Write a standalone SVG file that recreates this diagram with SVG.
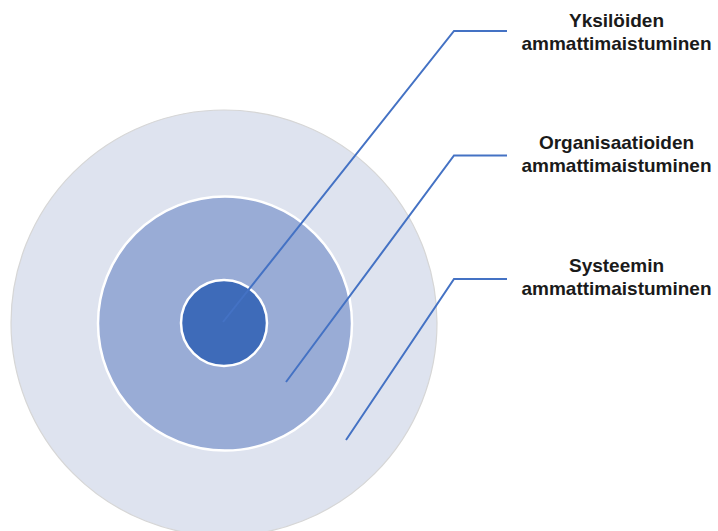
<svg xmlns="http://www.w3.org/2000/svg" width="718" height="531" viewBox="0 0 718 531">
<style>
.ring{stroke:#ffffff;stroke-width:2.5}
.lbl{font-family:"Liberation Sans",Arial,sans-serif;font-weight:bold;font-size:19px;fill:#1a1a1a;text-anchor:middle}
.conn{fill:none;stroke:#4472C4;stroke-width:2;stroke-linejoin:miter}
</style>
<rect width="718" height="531" fill="#ffffff"/>
<g id="systeemi">
<circle cx="224" cy="323" r="213" fill="#DEE3EF" stroke="#d6d6d6" stroke-width="1.2"/>
</g>
<g id="organisaatiot">
<circle class="ring" cx="225" cy="323.5" r="127" fill="#99ACD6"/>
</g>
<g id="yksilot">
<circle class="ring" cx="224" cy="323" r="43" fill="#3E6BB9"/>
</g>
<g id="connectors">
<polyline class="conn" points="223,322 454,31 507,31"/>
<polyline class="conn" points="286,382 454,155.5 507,155.5"/>
<polyline class="conn" points="346,440 454,279 507,279"/>
</g>
<g id="label-yksilot">
<text class="lbl" x="616.5" y="27">Yksilöiden</text>
<text class="lbl" x="616.5" y="50">ammattimaistuminen</text>
</g>
<g id="label-organisaatiot">
<text class="lbl" x="616.5" y="148.5">Organisaatioiden</text>
<text class="lbl" x="616.5" y="171.5">ammattimaistuminen</text>
</g>
<g id="label-systeemi">
<text class="lbl" x="616.5" y="271.5">Systeemin</text>
<text class="lbl" x="616.5" y="295">ammattimaistuminen</text>
</g>
</svg>
